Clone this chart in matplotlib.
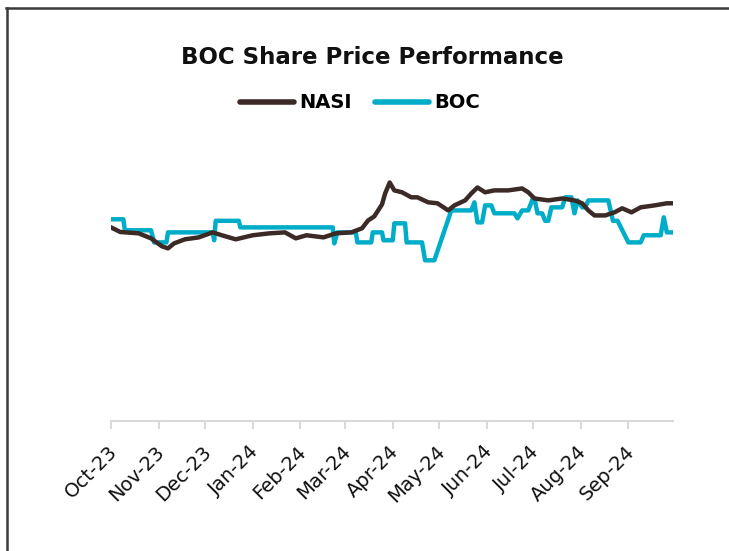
import matplotlib
matplotlib.use("Agg")
import matplotlib.pyplot as plt
import matplotlib.transforms as mtransforms
from matplotlib.lines import Line2D
import pandas as pd

title = "BOC Share Price Performance"
series_names = ["NASI", "BOC"]

nasi_dates = ["2023-10-01", "2023-10-07", "2023-10-19", "2023-10-27", "2023-11-03", "2023-11-07",
              "2023-11-11", "2023-11-18", "2023-11-27", "2023-12-06", "2023-12-12", "2023-12-21",
              "2024-01-01", "2024-01-12", "2024-01-22", "2024-01-29", "2024-02-05", "2024-02-16",
              "2024-02-24", "2024-03-05", "2024-03-12", "2024-03-16", "2024-03-20", "2024-03-25",
              "2024-03-27", "2024-03-30", "2024-04-02", "2024-04-07", "2024-04-13", "2024-04-17",
              "2024-04-24", "2024-04-30", "2024-05-07", "2024-05-11", "2024-05-18", "2024-05-22",
              "2024-05-26", "2024-05-31", "2024-06-06", "2024-06-15", "2024-06-24", "2024-06-28",
              "2024-07-02", "2024-07-11", "2024-07-20", "2024-07-28", "2024-08-02", "2024-08-06",
              "2024-08-10", "2024-08-17", "2024-08-23", "2024-08-28", "2024-09-03", "2024-09-09",
              "2024-09-18", "2024-09-26", "2024-09-30"]
nasi_values = [100.5, 98.1, 97.4, 94.8, 90.7, 89.6,
               92.2, 94.3, 95.3, 97.9, 96.4, 94.3,
               96.4, 97.4, 97.9, 94.8, 96.4, 95.3,
               97.4, 97.9, 100.0, 104.1, 106.2, 112.4,
               118.0, 123.8, 119.7, 118.7, 116.1, 116.1,
               113.5, 113.0, 109.3, 111.9, 114.5, 118.1,
               121.2, 118.7, 119.7, 119.7, 120.7, 118.7,
               115.5, 114.5, 115.5, 114.5, 113.0, 109.3,
               106.7, 106.7, 108.3, 110.4, 108.3, 110.9,
               111.9, 113.0, 113.0]

boc_dates = ["2023-10-01", "2023-10-09", "2023-10-10", "2023-10-27", "2023-10-29", "2023-11-06",
             "2023-11-07", "2023-12-06", "2023-12-07", "2023-12-08", "2023-12-23", "2023-12-24",
             "2024-02-22", "2024-02-23", "2024-02-25", "2024-03-08", "2024-03-09", "2024-03-18",
             "2024-03-19", "2024-03-25", "2024-03-26", "2024-04-01", "2024-04-02", "2024-04-09",
             "2024-04-10", "2024-04-20", "2024-04-22", "2024-04-28", "2024-05-09", "2024-05-22",
             "2024-05-24", "2024-05-26", "2024-05-29", "2024-05-31", "2024-06-04", "2024-06-06",
             "2024-06-19", "2024-06-21", "2024-06-24", "2024-06-28", "2024-07-01", "2024-07-02",
             "2024-07-04", "2024-07-07", "2024-07-09", "2024-07-11", "2024-07-13", "2024-07-20",
             "2024-07-22", "2024-07-26", "2024-07-28", "2024-07-30", "2024-08-02", "2024-08-04",
             "2024-08-06", "2024-08-19", "2024-08-22", "2024-08-25", "2024-09-01", "2024-09-09",
             "2024-09-11", "2024-09-22", "2024-09-24", "2024-09-26", "2024-09-30"]
boc_values = [104.7, 104.7, 99.0, 99.0, 92.7, 92.7,
              97.9, 97.9, 93.8, 103.9, 103.9, 100.5,
              100.5, 92.2, 97.9, 97.9, 92.7, 92.7,
              97.9, 97.9, 93.8, 93.8, 102.6, 102.6,
              92.7, 92.7, 83.4, 83.4, 109.3, 109.3,
              113.5, 103.1, 103.1, 111.9, 111.9, 107.8,
              107.8, 105.2, 109.3, 109.3, 115.5, 115.5,
              107.8, 107.8, 103.9, 103.9, 110.9, 110.9,
              116.1, 116.1, 107.8, 114.5, 110.9, 110.9,
              114.5, 114.5, 103.9, 103.9, 92.7, 92.7,
              96.4, 96.4, 105.7, 97.9, 97.9]

tick_dates = ["2023-10-01", "2023-11-01", "2023-12-01", "2024-01-01", "2024-02-01", "2024-03-01",
              "2024-04-01", "2024-05-01", "2024-06-01", "2024-07-01", "2024-08-01", "2024-09-01"]
tick_labels = ["Oct-23", "Nov-23", "Dec-23", "Jan-24", "Feb-24", "Mar-24",
               "Apr-24", "May-24", "Jun-24", "Jul-24", "Aug-24", "Sep-24"]

nasi_color = "#3b2a26"
boc_color = "#00adc9"

plt.rcParams['font.family'] = ['DejaVu Sans']

W, H = 729, 551
fig = plt.figure(figsize=(W / 100, H / 100), dpi=100)
ax = fig.add_axes([111 / W, (H - 421) / H, (673 - 111) / W, (421 - 132) / H])

nd = pd.to_datetime(nasi_dates)
bd = pd.to_datetime(boc_dates)
ax.plot(nd, nasi_values, color=nasi_color, lw=3.2, solid_joinstyle='round', label=series_names[0], zorder=3)
ax.plot(bd, boc_values, color=boc_color, lw=3.2, solid_joinstyle='round', label=series_names[1], zorder=2)

ax.set_xlim(pd.Timestamp("2023-10-01"), pd.Timestamp("2024-09-30"))
ax.set_ylim(0, 150)
ax.set_yticks([])
for s in ["top", "right", "left"]:
    ax.spines[s].set_visible(False)
ax.spines["bottom"].set_color("#d9d9d9")
ax.spines["bottom"].set_linewidth(1.5)

ax.set_xticks(pd.to_datetime(tick_dates))
ax.set_xticklabels(tick_labels, rotation=45, ha="right", va="center", rotation_mode="anchor",
                   fontsize=14, color="#111111")
ax.tick_params(axis="x", length=6, width=1.5, color="#d9d9d9", pad=14)
offset = mtransforms.ScaledTranslation(3 / 100, 0, fig.dpi_scale_trans)
for lbl in ax.get_xticklabels():
    lbl.set_transform(lbl.get_transform() + offset)

fig.text(372 / W, 1 - 58 / H, title, ha="center", va="center", fontsize=16.5, fontweight="bold", color="#111111")

leg = fig.legend(handles=[Line2D([0], [0], color=nasi_color, lw=4, solid_capstyle='round'),
                          Line2D([0], [0], color=boc_color, lw=4, solid_capstyle='round')],
                 labels=series_names, loc="center", bbox_to_anchor=(360 / W, 1 - 103 / H), ncol=2,
                 frameon=False, prop={"weight": "bold", "size": 14}, handlelength=2.8,
                 handletextpad=0.25, columnspacing=1.2)

# figure border (top and left)
fig.add_artist(Line2D([6.5 / W, 6.5 / W], [0, 1 - 8 / H], color="#3a3a3a", lw=1.8, transform=fig.transFigure))
fig.add_artist(Line2D([6 / W, 1], [1 - 8 / H, 1 - 8 / H], color="#3a3a3a", lw=1.8, transform=fig.transFigure))

fig.savefig("out.png", dpi=100, facecolor="white")
